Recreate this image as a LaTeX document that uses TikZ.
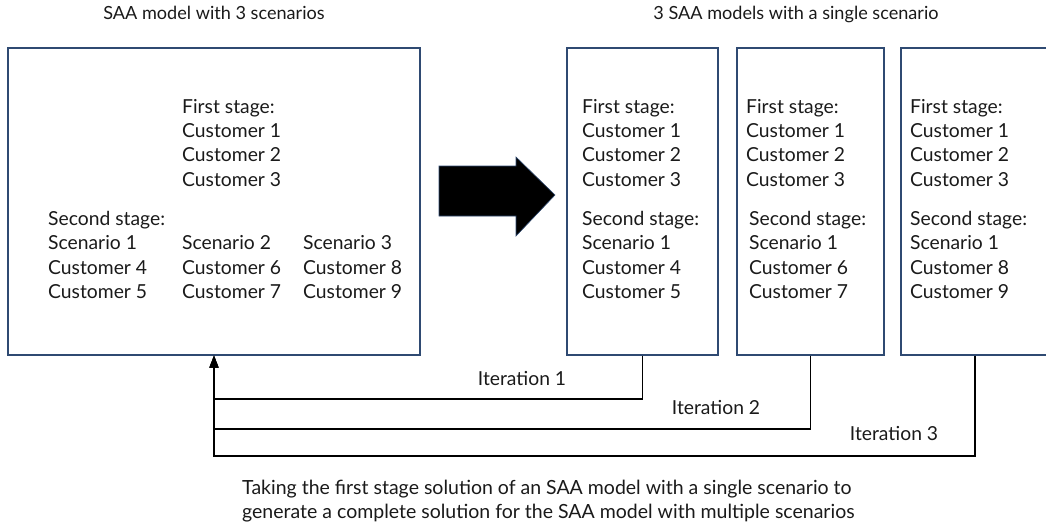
\documentclass[tikz,border=0pt]{standalone}
\usepackage{fontspec}
\setmainfont{Lato}
\usetikzlibrary{arrows.meta}
\definecolor{boxline}{HTML}{2F4A72}
\definecolor{inktext}{HTML}{1A1A1A}
\begin{document}
\begin{tikzpicture}[x=1pt,y=-1pt,
  box/.style={draw=boxline,line width=1.2pt,rectangle,inner sep=0pt},
  lbl/.style={inner sep=0pt,anchor=base west,text=inktext,font=\fontsize{19.3}{23}\selectfont},
  ttl/.style={inner sep=0pt,anchor=base,text=inktext,font=\fontsize{18.1}{22}\selectfont},
  itl/.style={inner sep=0pt,anchor=base,text=inktext,font=\fontsize{19.3}{23}\selectfont},
  conn/.style={draw=black,line width=1.2pt},
  tip/.style={-{Triangle[length=12pt,width=9pt]}}]
\useasboundingbox (0,0) rectangle (1046,527);

% titles
\node[ttl] (t-left) at (214,20) {SAA model with 3 scenarios};
\node[ttl] (t-right) at (796,20) {3 SAA models with a single scenario};

% the full model and the three single-scenario models
\node[box,minimum width=412pt,minimum height=307pt] (big) at (214,201.5) {};
\node[box,minimum width=151pt,minimum height=307pt] (r1) at (642.5,201.5) {};
\node[box,minimum width=147pt,minimum height=307pt] (r2) at (810.5,201.5) {};
\node[box,minimum width=148pt,minimum height=307pt] (r3) at (975,201.5) {};

% contents of the full model
\foreach \t [count=\i from 0] in {First stage:,Customer 1,Customer 2,Customer 3}
  \node[lbl] (big-f\i) at (182,{113+24.4*\i}) {\t};
\node[lbl] (big-s) at (48,225.5) {Second stage:};
\foreach \t [count=\i from 1] in {Scenario 1,Customer 4,Customer 5}
  \node[lbl] (big-a\i) at (48,{225.5+24.4*\i}) {\t};
\foreach \t [count=\i from 1] in {Scenario 2,Customer 6,Customer 7}
  \node[lbl] (big-b\i) at (182,{225.5+24.4*\i}) {\t};
\foreach \t [count=\i from 1] in {Scenario 3,Customer 8,Customer 9}
  \node[lbl] (big-c\i) at (303,{225.5+24.4*\i}) {\t};

% contents of the single-scenario models
\foreach \t [count=\i from 0] in {First stage:,Customer 1,Customer 2,Customer 3}
  \node[lbl] (r1-f\i) at (582,{113+24.4*\i}) {\t};
\foreach \t [count=\i from 0] in {Second stage:,Scenario 1,Customer 4,Customer 5}
  \node[lbl] (r1-s\i) at (582,{225.5+24.4*\i}) {\t};
\foreach \t [count=\i from 0] in {First stage:,Customer 1,Customer 2,Customer 3}
  \node[lbl] (r2-f\i) at (746,{113+24.4*\i}) {\t};
\foreach \t [count=\i from 0] in {Second stage:,Scenario 1,Customer 6,Customer 7}
  \node[lbl] (r2-s\i) at (749,{225.5+24.4*\i}) {\t};
\foreach \t [count=\i from 0] in {First stage:,Customer 1,Customer 2,Customer 3}
  \node[lbl] (r3-f\i) at (910,{113+24.4*\i}) {\t};
\foreach \t [count=\i from 0] in {Second stage:,Scenario 1,Customer 8,Customer 9}
  \node[lbl] (r3-s\i) at (910,{225.5+24.4*\i}) {\t};

% block arrow between the two sides
\draw[fill=black,draw=boxline,line width=0.6pt]
  (439,166) -- (516,166) -- (516,157) -- (555,195) -- (516,236) -- (516,216) -- (439,216) -- cycle;

% feedback connectors
\coordinate (k1) at (214,399);
\coordinate (k2) at (214,429);
\coordinate (k3) at (214,456);
\draw[conn,tip] (r1.south) |- (k1) -- (big.south);
\draw[conn,tip] (r2.south) |- (k2) -- (big.south);
\draw[conn,tip] (r3.south) |- (k3) -- (big.south);
\node[itl] (it1) at (522,385) {Iteration 1};
\node[itl] (it2) at (716,414) {Iteration 2};
\node[itl] (it3) at (894,440) {Iteration 3};

% caption
\node[lbl,font=\fontsize{19.5}{23}\selectfont] (cap1) at (242,494)
  {Taking the first stage solution of an SAA model with a single scenario to};
\node[lbl,font=\fontsize{19.5}{23}\selectfont] (cap2) at (242,518)
  {generate a complete solution for the SAA model with multiple scenarios};
\end{tikzpicture}
\end{document}
